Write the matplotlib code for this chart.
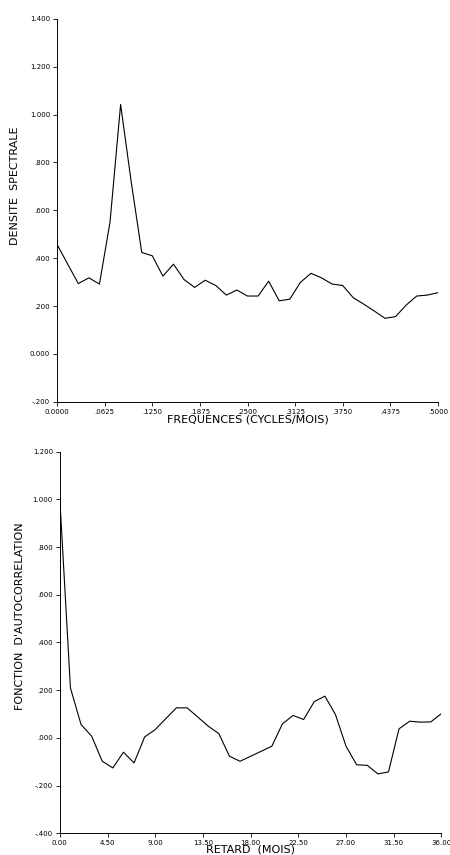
import matplotlib
matplotlib.use("Agg")
import matplotlib.pyplot as plt
import numpy as np

# densite spectrale, frequences k/72 pour k = 0..36
frequences = np.arange(37) / 72.0
densite = [0.457, 0.375, 0.294, 0.318, 0.292, 0.551, 1.042, 0.72, 0.424, 0.41,
           0.325, 0.375, 0.311, 0.278, 0.308, 0.286, 0.246, 0.267, 0.242, 0.242,
           0.304, 0.222, 0.229, 0.299, 0.337, 0.318, 0.292, 0.286, 0.235, 0.208,
           0.179, 0.149, 0.156, 0.204, 0.242, 0.246, 0.256]

# fonction d'autocorrelation, retard 0..36 mois
retard = np.arange(37)
autocorr = [1.0, 0.209, 0.056, 0.007, -0.098, -0.126, -0.060, -0.105, 0.004, 0.035,
            0.081, 0.126, 0.126, 0.088, 0.049, 0.018, -0.077, -0.098, -0.077, -0.056,
            -0.035, 0.059, 0.094, 0.077, 0.152, 0.175, 0.098, -0.035, -0.113, -0.115,
            -0.151, -0.143, 0.038, 0.070, 0.066, 0.067, 0.102]

xt_haut = [0, 0.0625, 0.125, 0.1875, 0.25, 0.3125, 0.375, 0.4375, 0.5]
xt_haut_lab = ["0.0000", ".0625", ".1250", ".1875", ".2500", ".3125", ".3750", ".4375", ".5000"]
yt_haut = [-0.2, 0, 0.2, 0.4, 0.6, 0.8, 1.0, 1.2, 1.4]
yt_haut_lab = ["-.200", "0.000", ".200", ".400", ".600", ".800", "1.000", "1.200", "1.400"]

xt_bas = [0, 4.5, 9, 13.5, 18, 22.5, 27, 31.5, 36]
xt_bas_lab = ["0.00", "4.50", "9.00", "13.50", "18.00", "22.50", "27.00", "31.50", "36.00"]
yt_bas = [-0.4, -0.2, 0, 0.2, 0.4, 0.6, 0.8, 1.0, 1.2]
yt_bas_lab = ["-.400", "-.200", ".000", ".200", ".400", ".600", ".800", "1.000", "1.200"]

fig = plt.figure(figsize=(4.5, 8.55), dpi=100)
ax1 = fig.add_axes([0.127, 0.530, 0.846, 0.448])
ax2 = fig.add_axes([0.133, 0.0254, 0.848, 0.4463])


def style(ax):
    for s in ["top", "right"]:
        ax.spines[s].set_visible(False)
    for s in ["left", "bottom"]:
        ax.spines[s].set_linewidth(0.7)
    ax.tick_params(direction="out", length=3, width=0.6, labelsize=5, pad=2)


ax1.plot(frequences, densite, color="black", lw=0.8)
ax1.set_xlim(0, 0.5)
ax1.set_ylim(-0.2, 1.4)
ax1.set_xticks(xt_haut, xt_haut_lab)
ax1.set_yticks(yt_haut, yt_haut_lab)
style(ax1)
ax1.set_xlabel("FREQUENCES (CYCLES/MOIS)", fontsize=8, labelpad=0)
ax1.set_ylabel("DENSITE  SPECTRALE", fontsize=8)
ax1.yaxis.set_label_coords(-0.098, 0.564)

ax2.plot(retard, autocorr, color="black", lw=0.8)
ax2.set_xlim(0, 36)
ax2.set_ylim(-0.4, 1.2)
ax2.set_xticks(xt_bas, xt_bas_lab)
ax2.set_yticks(yt_bas, yt_bas_lab)
style(ax2)
ax2.set_xlabel("RETARD  (MOIS)", fontsize=8, labelpad=-1)
ax2.set_ylabel("FONCTION  D'AUTOCORRELATION", fontsize=8)
ax2.yaxis.set_label_coords(-0.092, 0.569)

fig.savefig("out.png", dpi=100)
